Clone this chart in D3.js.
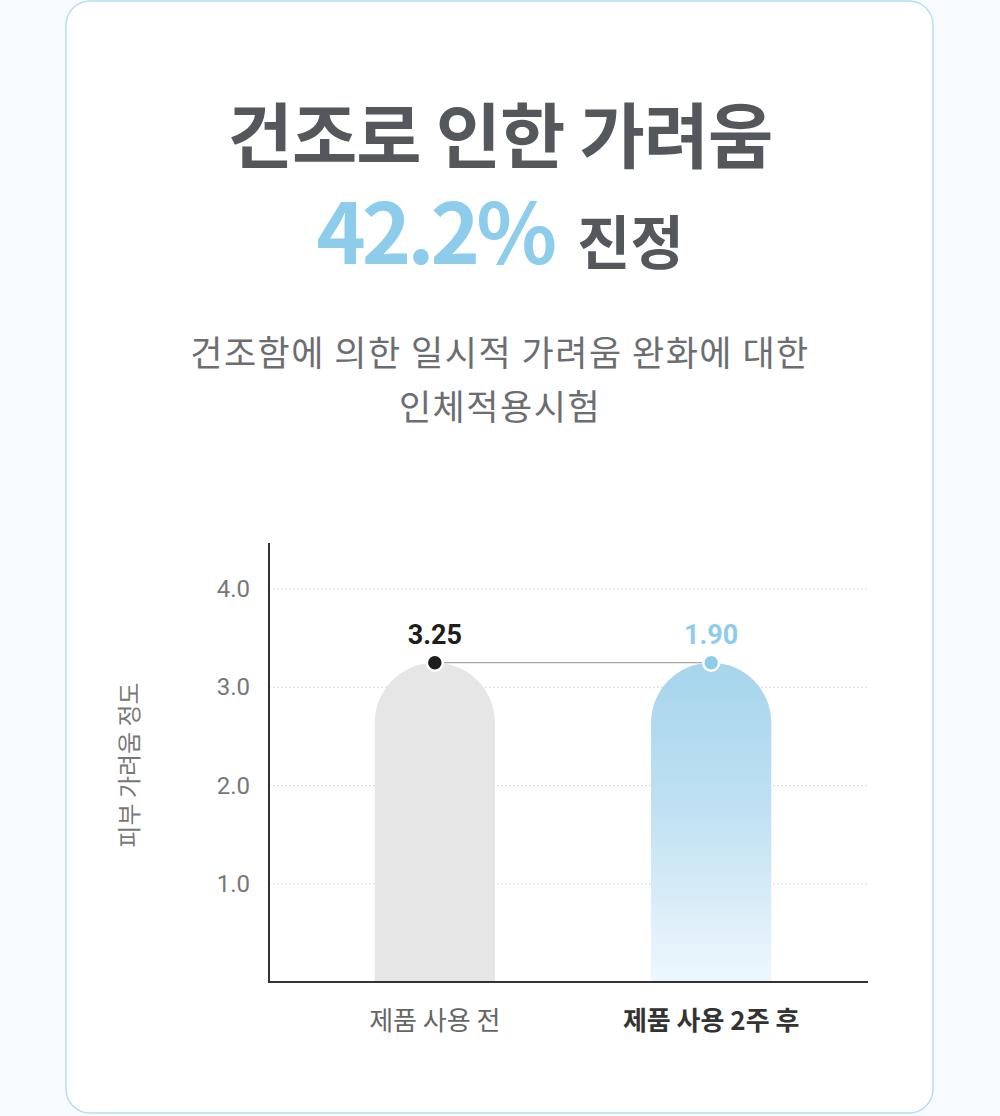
<!DOCTYPE html>
<html>
<head>
<meta charset="utf-8">
<script src="https://cdn.jsdelivr.net/npm/d3@7"></script>
<style>
  body { margin: 0; background: #f7fbfe; }
  svg { display: block; font-family: "Noto Sans CJK KR", "Noto Sans", sans-serif; }
</style>
</head>
<body>
<div class="canvas"></div>
<script>
// data
const categories = ['제품 사용 전', '제품 사용 2주 후'];
const values = [3.25, 1.90];
// bars in the picture are drawn at the same level, labels carry the values
const barLevels = [3.25, 3.25];
const ticks = [1.0, 2.0, 3.0, 4.0];

const svg = d3.select('.canvas')
    .append('svg')
    .attr('width', 1000)
    .attr('height', 1116);

// card
svg.append('rect')
    .attr('x', 66).attr('y', 1)
    .attr('width', 867).attr('height', 1112)
    .attr('rx', 24)
    .attr('fill', '#fff')
    .attr('stroke', '#b5def2')
    .attr('stroke-width', 1.5);

// headings
svg.append('text')
    .attr('x', 500).attr('y', 162)
    .attr('text-anchor', 'middle')
    .attr('font-size', 71).attr('font-weight', 700)
    .attr('fill', '#54575b')
    .attr('letter-spacing', -1)
    .text('건조로 인한 가려움');

const sub = svg.append('text')
    .attr('x', 500).attr('y', 264)
    .attr('text-anchor', 'middle')
    .attr('font-weight', 700);
sub.append('tspan')
    .attr('font-size', 84).attr('fill', '#8dcdeb')
    .attr('letter-spacing', -4)
    .text('42.2%');
sub.append('tspan')
    .attr('font-size', 58).attr('fill', '#54575b')
    .attr('dx', 24)
    .text('진정');

svg.append('text')
    .attr('x', 500).attr('y', 366)
    .attr('text-anchor', 'middle')
    .attr('font-size', 35).attr('fill', '#6b6d70')
    .attr('letter-spacing', 1.5)
    .text('건조함에 의한 일시적 가려움 완화에 대한');
svg.append('text')
    .attr('x', 500).attr('y', 420)
    .attr('text-anchor', 'middle')
    .attr('font-size', 35).attr('fill', '#6b6d70')
    .attr('letter-spacing', 1.5)
    .text('인체적용시험');

// chart
const x = d3.scaleBand()
    .domain(categories)
    .range([278, 868])
    .paddingInner(0.565)
    .paddingOuter(0.35);

const y = d3.scaleLinear()
    .domain([0, 4.0])
    .range([982, 589]);

const graph = svg.append('g');

graph.selectAll('.grid')
    .data(ticks)
    .enter().append('line')
    .attr('x1', 269).attr('x2', 868)
    .attr('y1', d => y(d)).attr('y2', d => y(d))
    .attr('stroke', '#cfcfcf')
    .attr('stroke-dasharray', '1.5,2.5');

graph.selectAll('.tick')
    .data(ticks)
    .enter().append('text')
    .attr('x', 250)
    .attr('y', d => y(d) + 8)
    .attr('text-anchor', 'end')
    .attr('font-size', 24).attr('fill', '#777')
    .attr('font-family', 'Roboto, sans-serif')
    .text(d => d.toFixed(1));

const defs = svg.append('defs');
const grad = defs.append('linearGradient')
    .attr('id', 'blueGrad')
    .attr('x1', 0).attr('x2', 0).attr('y1', 0).attr('y2', 1);
grad.append('stop').attr('offset', '0%').attr('stop-color', '#a6d5ec');
grad.append('stop').attr('offset', '45%').attr('stop-color', '#bfe0f2');
grad.append('stop').attr('offset', '100%').attr('stop-color', '#eef7fd');

const barPath = (x0, w, top, bottom) => {
    const r = w / 2;
    return `M${x0},${bottom} L${x0},${top + r} A${r},${r} 0 0 1 ${x0 + w},${top + r} L${x0 + w},${bottom} Z`;
};

graph.selectAll('.bar')
    .data(categories)
    .enter().append('path')
    .attr('d', (d, i) => barPath(x(d), x.bandwidth(), y(barLevels[i]), y(0)))
    .attr('fill', (d, i) => i === 0 ? '#e6e6e6' : 'url(#blueGrad)');

// connector
graph.append('line')
    .attr('x1', x(categories[0]) + x.bandwidth() / 2)
    .attr('x2', x(categories[1]) + x.bandwidth() / 2)
    .attr('y1', y(barLevels[0])).attr('y2', y(barLevels[1]))
    .attr('stroke', '#a9a9a9').attr('stroke-width', 1.2);

graph.selectAll('.dot')
    .data(categories)
    .enter().append('circle')
    .attr('cx', d => x(d) + x.bandwidth() / 2)
    .attr('cy', (d, i) => y(barLevels[i]))
    .attr('r', 8)
    .attr('fill', (d, i) => i === 0 ? '#1d1d1d' : '#8dcdeb')
    .attr('stroke', '#fff').attr('stroke-width', 2.5);

graph.selectAll('.val')
    .data(categories)
    .enter().append('text')
    .attr('x', d => x(d) + x.bandwidth() / 2)
    .attr('y', (d, i) => y(barLevels[i]) - 19)
    .attr('text-anchor', 'middle')
    .attr('font-size', 27).attr('font-weight', 700)
    .attr('font-family', 'Roboto, sans-serif')
    .attr('fill', (d, i) => i === 0 ? '#1d1d1d' : '#8dcdeb')
    .text((d, i) => values[i].toFixed(2));

// axes lines
graph.append('line')
    .attr('x1', 269).attr('x2', 269)
    .attr('y1', 543).attr('y2', 983)
    .attr('stroke', '#333').attr('stroke-width', 2);
graph.append('line')
    .attr('x1', 268).attr('x2', 868)
    .attr('y1', 982).attr('y2', 982)
    .attr('stroke', '#333').attr('stroke-width', 2);

graph.selectAll('.cat')
    .data(categories)
    .enter().append('text')
    .attr('x', d => x(d) + x.bandwidth() / 2)
    .attr('y', 1030)
    .attr('text-anchor', 'middle')
    .attr('font-size', 26)
    .attr('font-weight', (d, i) => i === 0 ? 400 : 700)
    .attr('fill', (d, i) => i === 0 ? '#666' : '#333')
    .text(d => d);

svg.append('text')
    .attr('transform', 'translate(138,765) rotate(-90)')
    .attr('text-anchor', 'middle')
    .attr('font-size', 24).attr('fill', '#777')
    .text('피부 가려움 정도');
</script>
</body>
</html>
